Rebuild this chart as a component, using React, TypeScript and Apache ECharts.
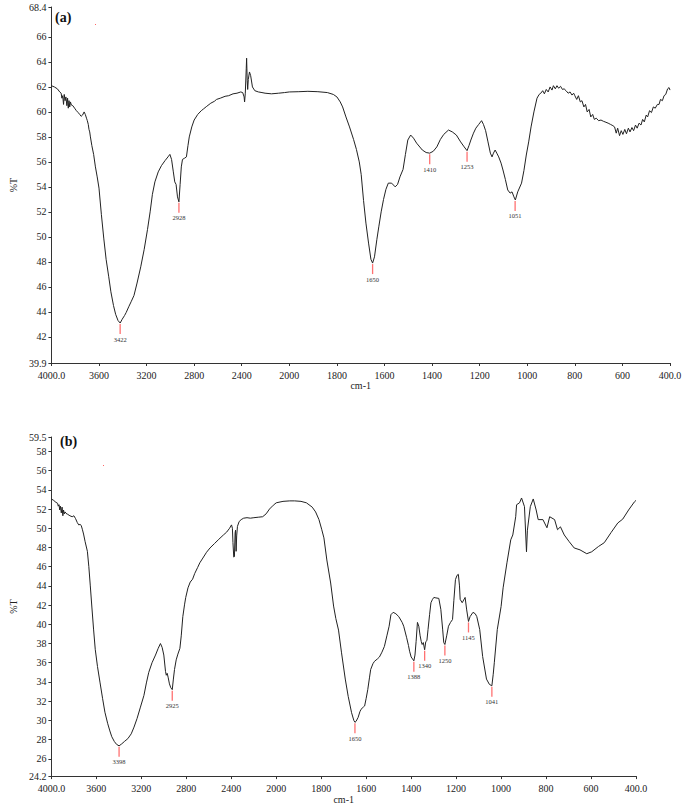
import React, { useEffect, useRef } from "react";
import * as echarts from "echarts";

// ---------- tick labels ----------
const xTickLabels = ["4000.0", "3600", "3200", "2800", "2400", "2000", "1800", "1600", "1400", "1200", "1000", "800", "600", "400.0"];
const yTicksA = [39.9, 42, 44, 46, 48, 50, 52, 54, 56, 58, 60, 62, 64, 66, 68.4];
const yTicksB = [24.2, 26, 28, 30, 32, 34, 36, 38, 40, 42, 44, 46, 48, 50, 52, 54, 56, 58, 59.5];

// ---------- spectrum (a) ----------
const wnA = [
  4000, 3975, 3950, 3930, 3918, 3912, 3905, 3898, 3892, 3885, 3878, 3870, 3864, 3858, 3852, 3846, 3840, 3832, 3820, 3805,
  3790, 3775, 3762, 3750, 3738, 3725, 3715, 3705, 3698, 3690, 3684, 3678, 3672, 3660, 3645, 3630, 3615, 3600, 3580, 3560,
  3540, 3518, 3500, 3478, 3460, 3440, 3422, 3405, 3385, 3371, 3350, 3330, 3306, 3280, 3249, 3220, 3192, 3170, 3151, 3130,
  3102, 3075, 3045, 3020, 3004, 2990, 2975, 2963, 2952, 2940, 2928, 2918, 2908, 2898, 2880, 2865, 2852, 2841, 2820, 2800,
  2770, 2740, 2720, 2694, 2660, 2630, 2612, 2580, 2540, 2510, 2473, 2440, 2408, 2392, 2380, 2376, 2370, 2362, 2359, 2354,
  2350, 2345, 2335, 2325, 2310, 2290, 2260, 2230, 2204, 2150, 2090, 2040, 2000, 1960, 1922, 1880, 1840, 1815, 1800, 1786,
  1776, 1762, 1747, 1730, 1718, 1706, 1698, 1688, 1678, 1667, 1657, 1650, 1642, 1632, 1624, 1614, 1604, 1594, 1584, 1570,
  1555, 1545, 1535, 1522, 1512, 1502, 1490, 1478, 1465, 1441, 1425, 1410, 1395, 1380, 1365, 1351, 1331, 1315, 1298, 1280,
  1265, 1253, 1245, 1237, 1226, 1216, 1204, 1192, 1184, 1175, 1165, 1155, 1148, 1142, 1135, 1128, 1120, 1110, 1102, 1092,
  1082, 1072, 1064, 1056, 1050, 1040, 1024, 1014, 1004, 994, 984, 972, 959, 950, 943, 935, 928, 920, 912, 904,
  896, 890, 882, 875, 868, 860, 852, 845, 837, 828, 820, 812, 805, 800, 792, 785, 777, 770, 762, 755,
  748, 740, 733, 725, 718, 710, 700, 690, 680, 673, 660, 650, 640, 633, 626, 620, 612, 605, 598, 590,
  583, 575, 568, 560, 553, 545, 538, 530, 522, 515, 508, 500, 494, 486, 478, 470, 462, 453, 446, 440,
  432, 425, 418, 410, 404, 400,
];
const tA = [
  62.1, 62.0, 61.85, 61.6, 61.5, 61.1, 61.3, 60.6, 61.4, 60.9, 61.2, 60.5, 61.1, 60.3, 60.9, 60.4, 60.8, 60.55, 60.5, 60.3,
  60.1, 59.95, 59.8, 59.65, 59.75, 60.0, 59.8, 59.5, 59.3, 59.0, 58.6, 58.4, 58.0, 57.3, 56.6, 55.6, 54.8, 53.9, 51.8, 49.9,
  48.2, 46.8, 45.6, 44.5, 43.8, 43.3, 43.1, 43.4, 43.7, 43.95, 44.4, 44.8, 45.3, 46.3, 47.6, 49.0, 50.6, 52.0, 53.4, 54.4,
  55.2, 55.7, 56.1, 56.4, 56.6, 56.2, 55.2, 54.4, 54.2, 53.2, 52.8, 54.2, 55.6, 56.2, 56.3, 56.4, 57.3, 58.0, 58.8, 59.35,
  59.8, 60.1, 60.25, 60.45, 60.7, 60.85, 61.0, 61.1, 61.25, 61.3, 61.45, 61.5, 61.6, 61.55, 61.2, 60.8, 61.5, 63.5, 64.3, 62.5,
  61.8, 62.6, 63.2, 62.9, 62.0, 61.7, 61.6, 61.55, 61.5, 61.45, 61.5, 61.55, 61.6, 61.62, 61.65, 61.62, 61.55, 61.4, 61.2, 60.8,
  60.4, 59.6, 58.8, 57.8, 57.0, 56.0, 55.0, 52.9, 51.1, 49.5, 48.2, 47.9, 48.4, 49.8, 50.8, 52.0, 53.0, 53.8, 54.3, 54.3,
  54.0, 54.2, 54.8, 55.4, 56.6, 57.75, 58.15, 57.9, 57.5, 56.95, 56.75, 56.7, 56.85, 57.2, 57.8, 58.2, 58.55, 58.4, 58.15, 57.6,
  57.2, 56.9, 57.3, 57.75, 58.3, 58.7, 59.0, 59.3, 59.0, 58.5, 57.6, 56.7, 56.4, 56.7, 56.95, 56.7, 56.4, 55.9, 55.35, 54.6,
  53.75, 53.5, 53.6, 53.2, 52.95, 53.6, 54.3, 55.3, 56.55, 57.6, 58.8, 60.0, 61.1, 61.4, 61.5, 61.7, 61.45, 61.8, 61.6, 62.0,
  61.75, 62.1, 61.85, 62.1, 61.9, 62.05, 61.8, 61.85, 61.7, 61.5, 61.6, 61.35, 61.5, 61.3, 61.0, 61.3, 60.8, 60.9, 60.4, 60.6,
  60.0, 60.2, 59.6, 59.8, 59.4, 59.5, 59.3, 59.35, 59.25, 59.2, 59.1, 59.0, 58.9, 58.8, 58.3, 58.7, 58.1, 58.5, 58.2, 58.6,
  58.25, 58.7, 58.4, 58.75, 58.5, 58.95, 58.7, 59.1, 58.95, 59.4, 59.2, 59.75, 59.6, 60.1, 59.95, 60.4, 60.3, 60.6, 60.6, 61.0,
  60.9, 61.3, 61.4, 61.85, 61.95, 61.75,
];
const peaksA = [3422, 2928, 1650, 1410, 1253, 1051];
const peakTA = [43.1, 52.8, 47.9, 56.7, 56.9, 52.95];

// ---------- spectrum (b) ----------
const wnB = [
  4000, 3980, 3960, 3945, 3939, 3932, 3926, 3920, 3912, 3905, 3898, 3892, 3885, 3878, 3870, 3855, 3835, 3815, 3800, 3785,
  3770, 3757, 3745, 3735, 3725, 3714, 3700, 3680, 3667, 3654, 3640, 3625, 3610, 3590, 3567, 3545, 3524, 3500, 3480, 3463,
  3440, 3420, 3398, 3375, 3351, 3320, 3290, 3265, 3238, 3210, 3177, 3155, 3134, 3105, 3074, 3050, 3030, 3015, 3000, 2985,
  2978, 2970, 2962, 2950, 2938, 2925, 2915, 2905, 2890, 2875, 2857, 2845, 2831, 2815, 2805, 2785, 2765, 2744, 2725, 2700,
  2680, 2658, 2620, 2589, 2550, 2511, 2470, 2441, 2415, 2398, 2390, 2385, 2378, 2372, 2366, 2362, 2357, 2352, 2345, 2330,
  2312, 2290, 2260, 2230, 2199, 2160, 2121, 2090, 2060, 2026, 2000, 1970, 1940, 1918, 1890, 1866, 1840, 1825, 1810, 1798,
  1788, 1775, 1758, 1745, 1735, 1723, 1710, 1693, 1680, 1665, 1655, 1650, 1645, 1636, 1628, 1623, 1612, 1607, 1600, 1593,
  1585, 1580, 1570, 1563, 1550, 1541, 1530, 1519, 1508, 1498, 1490, 1480, 1468, 1455, 1440, 1433, 1420, 1412, 1407, 1400,
  1394, 1388, 1383, 1378, 1372, 1366, 1360, 1355, 1351, 1346, 1340, 1335, 1330, 1325, 1318, 1312, 1305, 1299, 1290, 1277,
  1268, 1260, 1255, 1250, 1242, 1234, 1225, 1216, 1210, 1203, 1196, 1190, 1185, 1182, 1173, 1160, 1153, 1145, 1138, 1125,
  1115, 1108, 1095, 1082, 1065, 1052, 1041, 1035, 1030, 1017, 1000, 991, 974, 957, 948, 935, 931, 918, 909, 896,
  887, 883, 870, 857, 844, 835, 814, 796, 784, 762, 749, 736, 719, 697, 675, 649, 619, 597, 567, 541,
  511, 481, 459, 433, 407, 400,
];
const tB = [
  53.05, 52.9, 52.7, 52.6, 52.3, 52.45, 51.9, 52.3, 51.6, 52.2, 51.3, 51.9, 51.5, 51.7, 51.55, 51.45, 51.3, 51.2, 51.3, 51.0,
  50.6, 50.35, 50.4, 50.3, 49.9, 49.4, 48.6, 47.6, 46.0, 44.0, 41.8, 39.5, 37.4, 35.6, 33.9, 32.3, 30.85, 29.7, 28.9, 28.3,
  27.8, 27.5, 27.35, 27.55, 27.8, 28.1, 28.6, 29.3, 30.2, 31.3, 32.6, 33.9, 35.0, 36.0, 36.8, 37.5, 38.0, 37.6, 36.8, 35.1,
  34.7, 34.9, 34.5, 33.8, 33.4, 33.2, 34.3, 35.3, 36.3, 36.9, 37.5, 38.8, 40.8, 42.1, 42.8, 43.8, 44.4, 44.7, 45.3, 45.9,
  46.4, 46.8, 47.5, 47.95, 48.4, 48.85, 49.3, 49.6, 50.0, 50.35, 50.0, 48.5, 47.0, 47.05, 49.5, 49.8, 47.6, 49.2, 50.2, 50.7,
  50.9, 51.05, 51.1, 51.05, 51.1, 51.15, 51.2, 51.5, 52.0, 52.4, 52.65, 52.8, 52.85, 52.85, 52.8, 52.65, 52.2, 51.7, 50.9, 49.9,
  49.0, 46.7, 44.3, 41.9, 40.6, 39.4, 37.1, 34.3, 32.5, 30.8, 30.0, 29.8, 29.9, 30.3, 30.9, 31.15, 31.4, 31.5, 32.3, 33.2,
  34.5, 35.3, 35.9, 36.15, 36.4, 36.6, 37.1, 37.7, 38.8, 39.8, 41.0, 41.25, 41.1, 40.8, 40.2, 39.8, 38.6, 37.8, 37.2, 36.6,
  36.4, 36.2, 36.8, 38.2, 40.2, 39.8, 38.8, 38.2, 37.9, 38.1, 37.35, 38.2, 38.3, 39.45, 41.0, 42.25, 42.6, 42.8, 42.75, 42.7,
  41.55, 39.5, 38.1, 37.9, 38.8, 39.8, 40.2, 40.5, 42.5, 44.65, 45.1, 45.2, 44.0, 42.6, 42.25, 42.8, 41.5, 40.3, 40.8, 41.25,
  41.1, 40.8, 39.45, 36.65, 34.3, 33.75, 33.6, 34.8, 36.05, 39.45, 41.85, 43.8, 46.4, 48.8, 49.3, 51.2, 52.45, 52.65, 53.15, 52.25,
  47.55, 49.8, 52.25, 53.05, 51.9, 50.9, 50.9, 50.05, 51.2, 50.9, 49.85, 50.15, 49.3, 48.6, 47.95, 47.75, 47.35, 47.55, 48.1, 48.5,
  49.55, 50.55, 50.95, 51.9, 52.75, 52.9,
];
const peaksB = [3398, 2925, 1650, 1388, 1340, 1250, 1145, 1041];
const peakTB = [27.35, 33.2, 29.8, 36.2, 37.35, 37.9, 40.3, 33.6];

// piecewise wavenumber axis: 400 cm-1 per division above 2000, 200 below
function toPos(w: number): number {
  return w >= 2000 ? (4000 - w) / 400 : 5 + (2000 - w) / 200;
}

const SERIF = "Liberation Serif";

function makeXAxis(gridIndex: number) {
  return {
    type: "value",
    gridIndex,
    min: 0,
    max: 13,
    interval: 1,
    name: "cm-1",
    nameLocation: "middle",
    nameGap: 17,
    nameTextStyle: { fontFamily: SERIF, fontSize: 10, color: "#222" },
    axisLine: { show: true, onZero: false, lineStyle: { color: "#333", width: 1 } },
    axisTick: { show: true, length: 3, lineStyle: { color: "#333" } },
    axisLabel: {
      margin: 7,
      fontFamily: SERIF,
      fontSize: 10,
      color: "#222",
      formatter: (v: number) => xTickLabels[Math.round(v)] ?? "",
    },
    splitLine: { show: false },
  };
}

function makeYAxis(gridIndex: number, min: number, max: number, ticks: number[]) {
  return {
    type: "value",
    gridIndex,
    min,
    max,
    name: "%T",
    nameLocation: "middle",
    nameRotate: 90,
    nameGap: 33,
    nameTextStyle: { fontFamily: SERIF, fontSize: 10, color: "#222" },
    axisLine: { show: true, onZero: false, lineStyle: { color: "#333", width: 1 } },
    axisTick: { show: true, length: 3, customValues: ticks, lineStyle: { color: "#333" } },
    axisLabel: {
      margin: 5,
      fontFamily: SERIF,
      fontSize: 10,
      color: "#222",
      customValues: ticks,
      formatter: (v: number) => String(v),
    },
    splitLine: { show: false },
  };
}

function peakSeries(idx: number, wns: number[], ts: number[]) {
  return {
    type: "custom",
    xAxisIndex: idx,
    yAxisIndex: idx,
    silent: true,
    z: 3,
    data: wns.map((w, i) => [toPos(w), ts[i], w]),
    renderItem: (_p: any, api: any) => {
      const pt = api.coord([api.value(0), api.value(1)]);
      return {
        type: "group",
        children: [
          {
            type: "line",
            shape: { x1: pt[0], y1: pt[1] + 1, x2: pt[0], y2: pt[1] + 11 },
            style: { stroke: "#ff4d4d", lineWidth: 1.3, opacity: 0.8 },
          },
          {
            type: "text",
            x: pt[0],
            y: pt[1] + 12.5,
            style: {
              text: String(api.value(2)),
              fill: "#333",
              fontSize: 6.5,
              fontFamily: SERIF,
              align: "center",
              verticalAlign: "top",
            },
          },
        ],
      };
    },
  };
}

export default function App() {
  const ref = useRef<HTMLDivElement>(null);
  useEffect(() => {
    document.body.style.margin = "0";
    if (!ref.current) return;
    const chart = echarts.init(ref.current, undefined, { renderer: "svg" });
    chart.setOption({
      animation: false,
      backgroundColor: "#fff",
      textStyle: { fontFamily: SERIF },
      title: [
        { text: "(a)", left: 50, top: 5, textStyle: { fontFamily: SERIF, fontSize: 14, fontWeight: "bold", color: "#111" } },
        { text: "(b)", left: 55, top: 429, textStyle: { fontFamily: SERIF, fontSize: 14, fontWeight: "bold", color: "#111" } },
      ],
      grid: [
        { left: 33, top: 7, width: 637, height: 356 },
        { left: 35, top: 437, width: 601, height: 340 },
      ],
      xAxis: [makeXAxis(0), makeXAxis(1)],
      yAxis: [makeYAxis(0, 39.9, 68.4, yTicksA), makeYAxis(1, 24.2, 59.5, yTicksB)],
      graphic: [
        { type: "rect", shape: { x: 95, y: 24, width: 1, height: 1 }, style: { fill: "#f66" } },
        { type: "rect", shape: { x: 103, y: 465, width: 1, height: 1 }, style: { fill: "#f66" } },
      ],
      series: [
        {
          type: "line",
          xAxisIndex: 0,
          yAxisIndex: 0,
          showSymbol: false,
          silent: true,
          lineStyle: { color: "#222", width: 1 },
          data: wnA.map((w, i) => [toPos(w), tA[i]]),
        },
        {
          type: "line",
          xAxisIndex: 1,
          yAxisIndex: 1,
          showSymbol: false,
          silent: true,
          lineStyle: { color: "#222", width: 1 },
          data: wnB.map((w, i) => [toPos(w), tB[i]]),
        },
        peakSeries(0, peaksA, peakTA),
        peakSeries(1, peaksB, peakTB),
      ],
    });
    return () => chart.dispose();
  }, []);
  return <div ref={ref} style={{ width: 685, height: 805 }} />;
}
